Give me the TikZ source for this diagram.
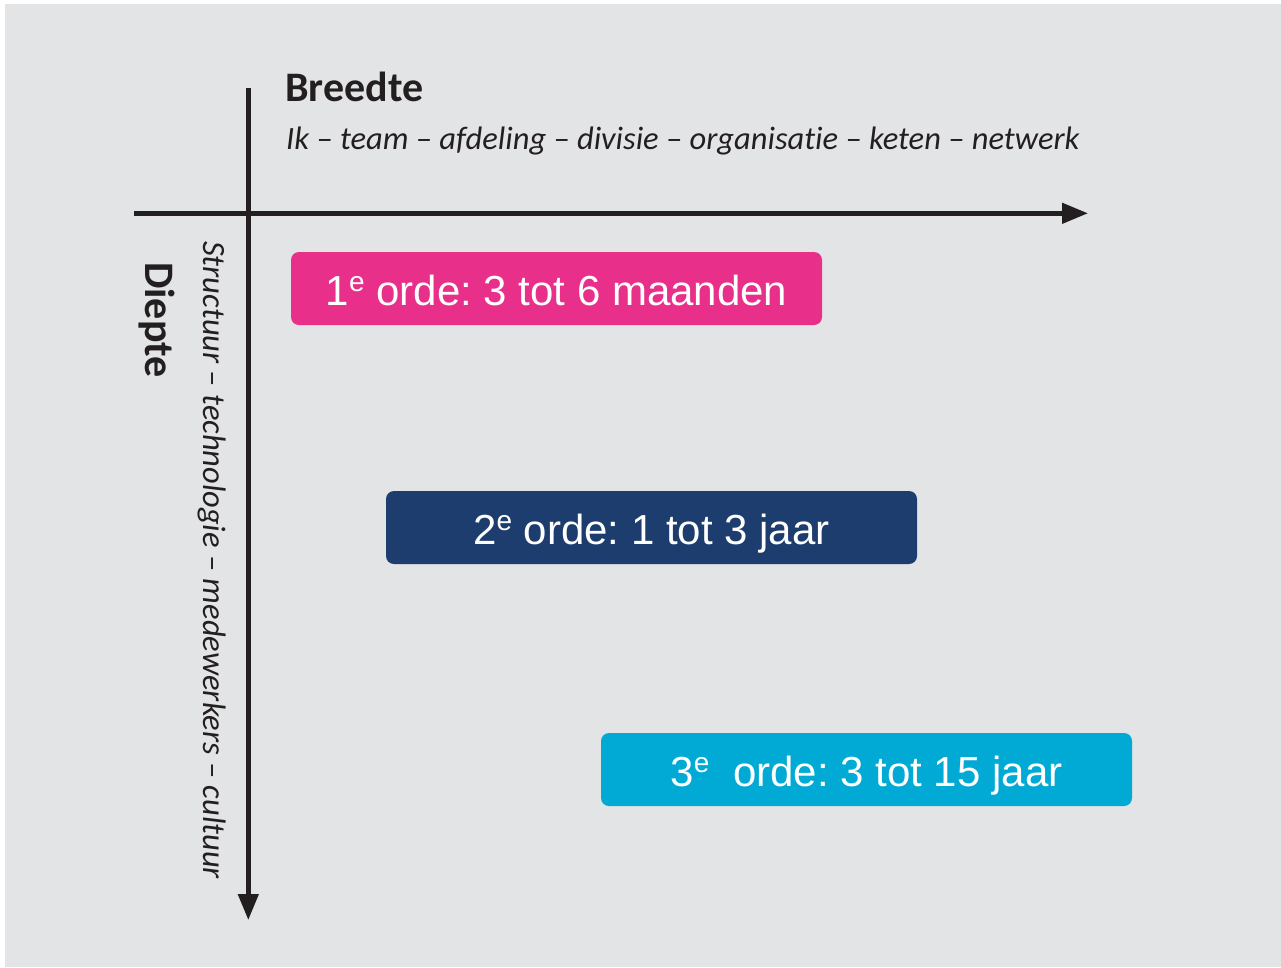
\documentclass[tikz,border=0pt]{standalone}
\usepackage{fontspec}
\setmainfont{Liberation Sans}
\newfontfamily\myriad[Ligatures={TeX,NoCommon}]{Carlito}
\usetikzlibrary{arrows.meta}

\definecolor{bggrey}{HTML}{E3E4E5}
\definecolor{axisblack}{HTML}{231F20}
\definecolor{ordepink}{HTML}{E8308A}
\definecolor{ordenavy}{HTML}{1D3D6E}
\definecolor{ordecyan}{HTML}{00AAD4}

\newcommand{\ordnr}[1]{#1\raisebox{14pt}{\fontsize{28}{28}\selectfont e}}

\begin{document}
\frenchspacing
\begin{tikzpicture}[x=1pt,y=-1pt,
	axis/.style={draw=axisblack,line width=4.6pt,-{Triangle[length=26pt,width=20pt]}},
	ordebox/.style={rounded corners=8pt,minimum width=531pt,minimum height=73pt,inner sep=0pt,
		text=white,font=\fontsize{42}{50}\selectfont,text height=38pt,text depth=4pt},
	axistitle/.style={inner sep=0pt,text=axisblack,font=\myriad\bfseries\fontsize{42}{42}\selectfont},
	axislist/.style={inner sep=0pt,text=axisblack,font=\myriad\itshape\fontsize{32.5}{34}\selectfont}]
	\useasboundingbox (0,0) rectangle (1281,967);
	\fill[bggrey] (5,4) rectangle (1281,967);
	% axes
	\coordinate (xfrom) at (134,213.3);
	\coordinate (xto) at (1088,213.3);
	\coordinate (yfrom) at (248.3,88);
	\coordinate (yto) at (248.3,920);
	\draw[axis] (xfrom) -- (xto);
	\draw[axis] (yfrom) -- (yto);
	% labels
	\path (285,101) node[axistitle,anchor=base west] (breedte) {Breedte};
	\path (286,149) node[axislist,anchor=base west] (breedtelist) {Ik – team – afdeling – divisie – organisatie – keten – netwerk};
	\path (145,262) node[axistitle,anchor=base west,rotate=-90] (diepte) {Diepte};
	\path (203,241) node[axislist,anchor=base west,rotate=-90] (dieptelist) {Structuur – technologie – medewerkers – cultuur};
	% orders
	\path (556.5,288.5) node[ordebox,fill=ordepink] (orde1) {\ordnr{1} orde: 3 tot 6 maanden};
	\path (651.5,527.5) node[ordebox,fill=ordenavy] (orde2) {\ordnr{2} orde: 1 tot 3 jaar};
	\path (866.5,769.5) node[ordebox,fill=ordecyan] (orde3) {\ordnr{3}\hspace{12pt} orde: 3 tot 15 jaar};
\end{tikzpicture}
\end{document}
